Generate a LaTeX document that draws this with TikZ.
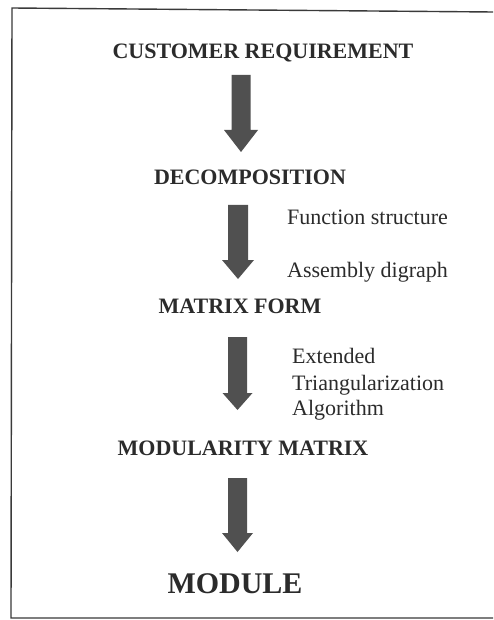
\documentclass[tikz,border=0pt]{standalone}
\usepackage{fontspec}
\setmainfont{Liberation Serif}
\definecolor{ink}{HTML}{2B2B2B}
\definecolor{arrowgray}{HTML}{505050}
\definecolor{framegray}{HTML}{3A3A3A}
\tikzset{
  heading/.style={anchor=base, text=ink, inner sep=0pt, font=\fontsize{22}{26}\selectfont\bfseries},
  bigheading/.style={anchor=base, text=ink, inner sep=0pt, font=\fontsize{30}{34}\selectfont\bfseries},
  note/.style={anchor=base west, text=ink, inner sep=0pt, font=\fontsize{22}{26}\selectfont},
  framerule/.style={draw=framegray, line width=1.4pt},
  blockarrow/.style={fill=arrowgray, draw=none}
}
% block arrow: centre x, top y, y where the head starts, tip y, half shaft width, half head width
\newcommand{\blockarr}[6]{%
  \fill[blockarrow] (#1-#5,#2) -- (#1+#5,#2) -- (#1+#5,#3) -- (#1+#6,#3)
    -- (#1,#4) -- (#1-#6,#3) -- (#1-#5,#3) -- cycle;}
\begin{document}
\begin{tikzpicture}[x=1pt,y=-1pt]
  \useasboundingbox (0,0) rectangle (493,620);
  \fill[white] (0,0) rectangle (493,620);

  % open frame: top, left and bottom edges
  \coordinate (ftl) at (12,8);
  \coordinate (ftr) at (493,12);
  \coordinate (fbl) at (11,618);
  \coordinate (fbr) at (493,618);
  \draw[framerule] (ftr) -- (ftl) -- (fbl) -- (fbr);

  % stage labels
  \node[heading] (cust) at (263,59) {CUSTOMER REQUIREMENT};
  \node[heading] (decomp) at (250,185) {DECOMPOSITION};
  \node[heading] (matrix) at (240,313) {MATRIX FORM};
  \node[heading] (modmat) at (243,455) {MODULARITY MATRIX};
  \node[bigheading] (module) at (235,593) {MODULE};

  % side notes
  \node[note] (fstruct) at (287,225) {Function structure};
  \node[note] (adigraph) at (287,277) {Assembly digraph};
  \node[note] (ext) at (292,363) {Extended};
  \node[note] (tri) at (292,390) {Triangularization};
  \node[note] (algo) at (292,415) {Algorithm};

  % flow arrows between stages
  \blockarr{241}{75}{130}{152}{9.5}{17}
  \blockarr{238}{205}{260}{279}{10}{16}
  \blockarr{237.5}{337}{393}{410}{9.5}{15}
  \blockarr{237.5}{478}{533}{552}{9.5}{15.5}
\end{tikzpicture}
\end{document}
